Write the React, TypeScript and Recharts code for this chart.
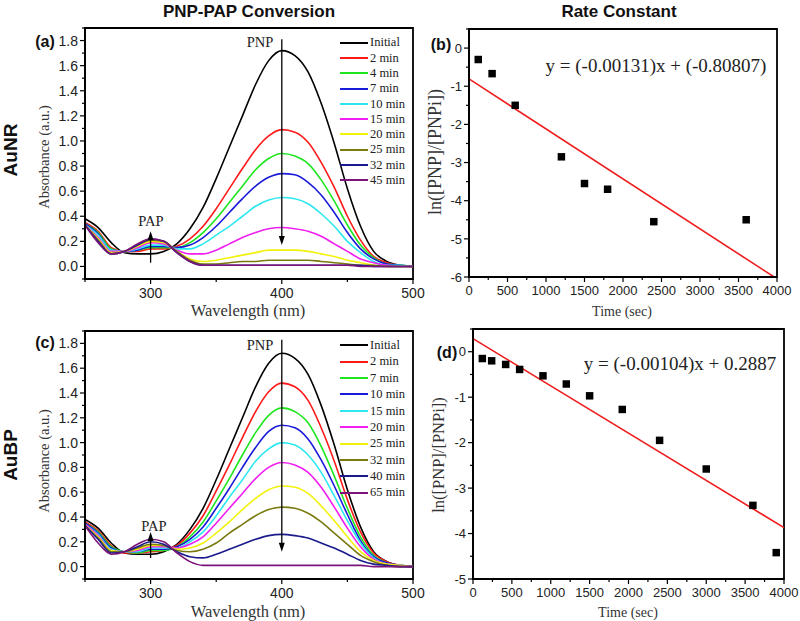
import {
  LineChart, ComposedChart, Line, Scatter, XAxis, YAxis, ZAxis,
  ReferenceArea, ReferenceLine, ReferenceDot, Legend
} from "recharts"

// wavelength grid (nm)
const wl = [250, 260, 270, 280, 290, 300, 310, 320, 330, 340, 350, 360, 370, 380, 390, 400, 410, 420, 430, 440, 450, 460, 470, 480, 490, 500]

// AuNR spectra
const nrLabels = ["Initial", "2 min", "4 min", "7 min", "10 min", "15 min", "20 min", "25 min", "32 min", "45 min"]
const nrInitial = [0.38, 0.31, 0.19, 0.11, 0.10, 0.10, 0.12, 0.18, 0.30, 0.47, 0.70, 0.95, 1.20, 1.45, 1.64, 1.72, 1.68, 1.55, 1.30, 0.98, 0.62, 0.32, 0.12, 0.04, 0.01, 0]
const nr2 = [0.35, 0.28, 0.15, 0.12, 0.12, 0.14, 0.14, 0.16, 0.22, 0.32, 0.46, 0.62, 0.78, 0.93, 1.04, 1.09, 1.07, 0.99, 0.83, 0.63, 0.40, 0.21, 0.08, 0.03, 0.01, 0]
const nr4 = [0.34, 0.27, 0.14, 0.12, 0.13, 0.15, 0.15, 0.15, 0.19, 0.27, 0.38, 0.51, 0.64, 0.77, 0.86, 0.90, 0.88, 0.82, 0.69, 0.52, 0.33, 0.17, 0.07, 0.02, 0.01, 0]
const nr7 = [0.34, 0.26, 0.13, 0.12, 0.13, 0.16, 0.16, 0.15, 0.17, 0.23, 0.32, 0.43, 0.54, 0.64, 0.71, 0.74, 0.73, 0.67, 0.57, 0.43, 0.27, 0.14, 0.06, 0.02, 0.01, 0]
const nr10 = [0.33, 0.25, 0.13, 0.12, 0.14, 0.17, 0.17, 0.14, 0.14, 0.18, 0.25, 0.32, 0.40, 0.48, 0.53, 0.55, 0.54, 0.50, 0.42, 0.32, 0.20, 0.11, 0.04, 0.01, 0.01, 0]
const nr15 = [0.33, 0.23, 0.12, 0.12, 0.15, 0.19, 0.18, 0.13, 0.10, 0.10, 0.13, 0.18, 0.23, 0.27, 0.30, 0.31, 0.30, 0.28, 0.24, 0.18, 0.12, 0.06, 0.03, 0.01, 0, 0]
const nr20 = [0.33, 0.22, 0.11, 0.12, 0.16, 0.20, 0.19, 0.12, 0.06, 0.04, 0.05, 0.07, 0.09, 0.11, 0.13, 0.13, 0.13, 0.12, 0.10, 0.08, 0.05, 0.03, 0.01, 0, 0, 0]
const nr25 = [0.33, 0.21, 0.10, 0.12, 0.17, 0.21, 0.20, 0.12, 0.05, 0.02, 0.02, 0.03, 0.04, 0.04, 0.05, 0.05, 0.05, 0.05, 0.04, 0.03, 0.02, 0.01, 0.01, 0, 0, 0]
const nr32 = [0.33, 0.20, 0.10, 0.12, 0.17, 0.22, 0.20, 0.11, 0.04, 0.01, 0.01, 0.01, 0.01, 0.01, 0.01, 0.01, 0.01, 0.01, 0.01, 0.01, 0.01, 0.01, 0, 0, 0, 0]
const nr45 = [0.33, 0.19, 0.10, 0.12, 0.18, 0.22, 0.20, 0.11, 0.04, 0.01, 0.01, 0.01, 0.01, 0.01, 0.01, 0.01, 0.01, 0.01, 0.01, 0.01, 0.01, 0, 0, 0, 0, 0]

// AuBP spectra
const bpLabels = ["Initial", "2 min", "7 min", "10 min", "15 min", "20 min", "25 min", "32 min", "40 min", "65 min"]
const bpInitial = [0.38, 0.31, 0.19, 0.11, 0.10, 0.10, 0.12, 0.18, 0.30, 0.47, 0.70, 0.95, 1.20, 1.45, 1.64, 1.72, 1.68, 1.55, 1.30, 0.98, 0.62, 0.32, 0.12, 0.04, 0.01, 0]
const bp2 = [0.36, 0.29, 0.17, 0.11, 0.11, 0.12, 0.13, 0.17, 0.27, 0.41, 0.61, 0.82, 1.04, 1.25, 1.41, 1.48, 1.45, 1.34, 1.12, 0.85, 0.54, 0.28, 0.11, 0.04, 0.01, 0]
const bp7 = [0.35, 0.28, 0.16, 0.12, 0.11, 0.13, 0.13, 0.16, 0.24, 0.36, 0.53, 0.71, 0.90, 1.08, 1.22, 1.28, 1.25, 1.16, 0.97, 0.73, 0.47, 0.24, 0.09, 0.03, 0.01, 0]
const bp10 = [0.35, 0.27, 0.15, 0.12, 0.12, 0.14, 0.14, 0.16, 0.22, 0.32, 0.47, 0.63, 0.80, 0.96, 1.09, 1.14, 1.12, 1.03, 0.86, 0.65, 0.42, 0.21, 0.08, 0.03, 0.01, 0]
const bp15 = [0.34, 0.26, 0.14, 0.12, 0.12, 0.15, 0.15, 0.15, 0.20, 0.28, 0.41, 0.56, 0.70, 0.85, 0.95, 1.00, 0.98, 0.90, 0.76, 0.57, 0.37, 0.19, 0.07, 0.02, 0.01, 0]
const bp20 = [0.34, 0.25, 0.13, 0.12, 0.13, 0.16, 0.16, 0.15, 0.18, 0.24, 0.35, 0.47, 0.59, 0.71, 0.80, 0.84, 0.82, 0.76, 0.64, 0.48, 0.31, 0.16, 0.06, 0.02, 0.01, 0]
const bp25 = [0.33, 0.24, 0.13, 0.12, 0.14, 0.17, 0.17, 0.14, 0.15, 0.19, 0.27, 0.36, 0.46, 0.55, 0.62, 0.65, 0.64, 0.59, 0.49, 0.37, 0.24, 0.12, 0.05, 0.02, 0.01, 0]
const bp32 = [0.33, 0.23, 0.12, 0.12, 0.15, 0.18, 0.17, 0.13, 0.12, 0.14, 0.19, 0.27, 0.34, 0.41, 0.46, 0.48, 0.47, 0.43, 0.36, 0.27, 0.18, 0.09, 0.04, 0.01, 0, 0]
const bp40 = [0.33, 0.22, 0.11, 0.12, 0.16, 0.20, 0.18, 0.12, 0.08, 0.07, 0.10, 0.14, 0.18, 0.22, 0.25, 0.26, 0.25, 0.23, 0.19, 0.15, 0.10, 0.05, 0.02, 0.01, 0, 0]
const bp65 = [0.33, 0.19, 0.10, 0.12, 0.18, 0.22, 0.20, 0.11, 0.04, 0.01, 0.01, 0.01, 0.01, 0.01, 0.01, 0.01, 0.01, 0.01, 0.01, 0.01, 0.01, 0.01, 0, 0, 0, 0]

const curveColors = ["#000000", "#ff1a1a", "#1ee61e", "#1a1ad9", "#2ee8f0", "#f01ef0", "#f2f20d", "#7a7a10", "#1a1a8c", "#7a147a"]

// kinetics (time in sec, ln([PNP]/[PNPi]))
const nrTime = [120, 300, 600, 1200, 1500, 1800, 2400, 3600]
const nrLn = [-0.30, -0.67, -1.50, -2.85, -3.55, -3.70, -4.55, -4.50]
const nrFitTime = [0, 3963]
const nrFitLn = [-0.808, -6.0]

const bpTime = [120, 240, 420, 600, 900, 1200, 1500, 1920, 2400, 3000, 3600, 3900]
const bpLn = [-0.15, -0.20, -0.28, -0.39, -0.53, -0.71, -0.97, -1.27, -1.95, -2.58, -3.38, -4.42]
const bpFitTime = [0, 4000]
const bpFitLn = [0.289, -3.871]

// ticks
const wlTicks = [250, 300, 350, 400, 450, 500]
const wlLabels = [300, 400, 500]
const absTicks = [-0.1, 0, 0.1, 0.2, 0.3, 0.4, 0.5, 0.6, 0.7, 0.8, 0.9, 1.0, 1.1, 1.2, 1.3, 1.4, 1.5, 1.6, 1.7, 1.8, 1.9]
const absLabels = [0, 0.2, 0.4, 0.6, 0.8, 1.0, 1.2, 1.4, 1.6, 1.8]
const timeTicks = [0, 250, 500, 750, 1000, 1250, 1500, 1750, 2000, 2250, 2500, 2750, 3000, 3250, 3500, 3750, 4000]
const timeLabels = [0, 500, 1000, 1500, 2000, 2500, 3000, 3500, 4000]
const nrLnTicks = [-6, -5.5, -5, -4.5, -4, -3.5, -3, -2.5, -2, -1.5, -1, -0.5, 0, 0.5]
const bpLnTicks = [-5, -4.5, -4, -3.5, -3, -2.5, -2, -1.5, -1, -0.5, 0, 0.5]
const lnLabels = [-6, -5, -4, -3, -2, -1, 0]

const sans = "Arial, 'Liberation Sans', sans-serif"
const serif = "'Times New Roman', 'Liberation Serif', serif"
const axisLine = { stroke: "#000", strokeWidth: 1.8 }

function toRows(curves: number[][]) {
  return wl.map((w, i) => {
    const row: Record<string, number> = { wl: w }
    curves.forEach((c, k) => { row["s" + k] = c[i] })
    return row
  })
}
const toPoints = (t: number[], v: number[]) => t.map((x, i) => ({ t: x, v: v[i] }))

const nrRows = toRows([nrInitial, nr2, nr4, nr7, nr10, nr15, nr20, nr25, nr32, nr45])
const bpRows = toRows([bpInitial, bp2, bp7, bp10, bp15, bp20, bp25, bp32, bp40, bp65])

const has = (list: number[], v: number) => list.some((m) => Math.abs(m - v) < 1e-6)

function LeftTick(props: any) {
  const { x, y, payload, labels, fmt, size } = props
  const ax = x + 6
  const major = has(labels, payload.value)
  return (
    <g>
      <line x1={ax - (major ? 5 : 3)} x2={ax} y1={y} y2={y} stroke="#000" strokeWidth={1.2} />
      {major && (
        <text x={ax - 7} y={y} dy="0.36em" textAnchor="end" fontSize={size} fontFamily={sans} fill="#222">
          {fmt(payload.value)}
        </text>
      )}
    </g>
  )
}

function BottomTick(props: any) {
  const { x, y, payload, labels, size } = props
  const ay = y - 6
  const major = has(labels, payload.value)
  return (
    <g>
      <line x1={x} x2={x} y1={ay} y2={ay + (major ? 5 : 3)} stroke="#000" strokeWidth={1.2} />
      {major && (
        <text x={x} y={ay + 9} dy="0.71em" textAnchor="middle" fontSize={size} fontFamily={sans} fill="#222">
          {payload.value}
        </text>
      )}
    </g>
  )
}

function SpecLegend({ payload, names, rowH }: any) {
  const items = [...(payload ?? [])].sort((a: any, b: any) => names.indexOf(a.value) - names.indexOf(b.value))
  return (
    <div>
      {items.map((e: any) => (
        <div key={e.value} style={{ height: rowH, display: "flex", alignItems: "center" }}>
          <span style={{ width: 28, borderTop: `2px solid ${e.color}`, marginRight: 2 }} />
          <span style={{ fontFamily: serif, fontSize: 12.5, color: "#222", lineHeight: 1 }}>{e.value}</span>
        </div>
      ))}
    </div>
  )
}

const downHead = (p: any) => <polygon points={`${p.cx - 3},${p.cy - 9} ${p.cx + 3},${p.cy - 9} ${p.cx},${p.cy}`} fill="#000" />
const upHead = (p: any) => <polygon points={`${p.cx - 3},${p.cy + 9} ${p.cx + 3},${p.cy + 9} ${p.cx},${p.cy}`} fill="#000" />

function Spectra({ rows, names, top, pnpTop, pnpTip, papBottom, papTip, legendTop, rowH }: any) {
  return (
    <LineChart width={430} height={top === 28 ? 320 : 321} data={rows} margin={{ top, right: 17, bottom: 0, left: 0 }}>
      <XAxis type="number" dataKey="wl" domain={[250, 500]} ticks={wlTicks} interval={0} allowDataOverflow
        height={top === 28 ? 41 : 42} tickSize={5} tickMargin={1} tickLine={false} axisLine={axisLine}
        tick={(p: any) => <BottomTick {...p} labels={wlLabels} size={14} />} />
      <YAxis type="number" domain={[-0.1, 1.9]} ticks={absTicks} interval={0} allowDataOverflow
        width={85} tickSize={5} tickMargin={1} tickLine={false} axisLine={axisLine}
        tick={(p: any) => <LeftTick {...p} labels={absLabels} size={14} fmt={(v: number) => v.toFixed(1)} />} />
      <ReferenceArea x1={250} x2={500} y1={-0.1} y2={1.9} fill="none" stroke="#000" strokeWidth={1.8} />
      {names.map((n: string, k: number) => (
        <Line key={n} type="monotone" dataKey={"s" + k} name={n} stroke={curveColors[k]} strokeWidth={1.6}
          dot={false} isAnimationActive={false} />
      ))}
      <ReferenceLine segment={[{ x: 400, y: pnpTop }, { x: 400, y: pnpTip + 0.06 }]} stroke="#000" strokeWidth={1.3} />
      <ReferenceDot x={400} y={pnpTip} shape={downHead} />
      <ReferenceLine segment={[{ x: 300, y: papBottom }, { x: 300, y: papTip - 0.06 }]} stroke="#000" strokeWidth={1.3} />
      <ReferenceDot x={300} y={papTip} shape={upHead} />
      <Legend layout="vertical" align="center" verticalAlign="middle"
        wrapperStyle={{ left: 340, top: legendTop, width: 90 }}
        content={(p: any) => <SpecLegend {...p} names={names} rowH={rowH} />} />
    </LineChart>
  )
}

function Kinetics({ points, fit, yDomain, yTicks, top, left, right, height, xH }: any) {
  return (
    <ComposedChart width={370} height={height} margin={{ top, right, bottom: 0, left: 0 }}>
      <XAxis type="number" dataKey="t" domain={[0, 4000]} ticks={timeTicks} interval={0} allowDataOverflow
        height={xH} tickSize={5} tickMargin={1} tickLine={false} axisLine={axisLine}
        tick={(p: any) => <BottomTick {...p} labels={timeLabels} size={13} />} />
      <YAxis type="number" dataKey="v" domain={yDomain} ticks={yTicks} interval={0} allowDataOverflow
        width={left} tickSize={5} tickMargin={1} tickLine={false} axisLine={axisLine}
        tick={(p: any) => <LeftTick {...p} labels={lnLabels} size={13} fmt={(v: number) => String(v)} />} />
      <ZAxis range={[56, 56]} />
      <ReferenceArea x1={0} x2={4000} y1={yDomain[0]} y2={yDomain[1]} fill="none" stroke="#000" strokeWidth={1.8} />
      <Line data={fit} dataKey="v" type="linear" stroke="#ee1c1c" strokeWidth={1.6} dot={false} isAnimationActive={false} />
      <Scatter data={points} dataKey="v" fill="#000" shape="square" isAnimationActive={false} />
    </ComposedChart>
  )
}

function Txt({ x, y, size, bold, font, rotate, color, children }: any) {
  return (
    <div style={{
      position: "absolute", left: x, top: y, whiteSpace: "nowrap", lineHeight: 1,
      transform: `translate(-50%, -50%)${rotate ? " rotate(-90deg)" : ""}`,
      fontSize: size, fontWeight: bold ? 700 : 400, fontFamily: font ?? sans, color: color ?? "#111",
    }}>{children}</div>
  )
}

export default function App() {
  return (
    <div style={{ position: "absolute", left: 0, top: 0, width: 800, height: 621, background: "#fff", overflow: "hidden" }}>
      <div style={{ position: "absolute", left: 0, top: 0 }}>
        <Spectra rows={nrRows} names={nrLabels} top={28} pnpTop={1.81} pnpTip={0.17} papBottom={0.03} papTip={0.28}
          legendTop={35} rowH={15.3} />
      </div>
      <div style={{ position: "absolute", left: 0, top: 300 }}>
        <Spectra rows={bpRows} names={bpLabels} top={31} pnpTop={1.83} pnpTip={0.12} papBottom={0.07} papTip={0.28}
          legendTop={37} rowH={16.4} />
      </div>
      <div style={{ position: "absolute", left: 430, top: 0 }}>
        <Kinetics points={toPoints(nrTime, nrLn)} fit={toPoints(nrFitTime, nrFitLn)} yDomain={[-6, 0.5]} yTicks={nrLnTicks}
          top={29} left={39} right={23} height={320} xH={43} />
      </div>
      <div style={{ position: "absolute", left: 430, top: 300 }}>
        <Kinetics points={toPoints(bpTime, bpLn)} fit={toPoints(bpFitTime, bpFitLn)} yDomain={[-5, 0.5]} yTicks={bpLnTicks}
          top={29} left={43} right={16} height={321} xH={42} />
      </div>

      <Txt x={249} y={11} size={17} bold>PNP-PAP Conversion</Txt>
      <Txt x={619} y={11} size={17} bold>Rate Constant</Txt>
      <Txt x={10} y={150} size={19} bold rotate>AuNR</Txt>
      <Txt x={10} y={455} size={19} bold rotate>AuBP</Txt>

      <Txt x={45} y={42} size={16} bold>(a)</Txt>
      <Txt x={441} y={45} size={16} bold>(b)</Txt>
      <Txt x={45} y={343} size={16} bold>(c)</Txt>
      <Txt x={447} y={353} size={16} bold>(d)</Txt>

      <Txt x={44} y={157} size={14.5} font={serif} color="#333" rotate>Absorbance (a.u.)</Txt>
      <Txt x={44} y={461} size={14.5} font={serif} color="#333" rotate>Absorbance (a.u.)</Txt>
      <Txt x={248} y={311} size={16.5} font={serif} color="#333">Wavelength (nm)</Txt>
      <Txt x={248} y={612} size={16.5} font={serif} color="#333">Wavelength (nm)</Txt>
      <Txt x={435} y={152} size={18} font={serif} color="#333" rotate>ln([PNP]/[PNPi])</Txt>
      <Txt x={439} y={455} size={16.5} font={serif} color="#333" rotate>ln([PNP]/[PNPi])</Txt>
      <Txt x={622} y={312} size={14} font={serif} color="#333">Time (sec)</Txt>
      <Txt x={628} y={613} size={14} font={serif} color="#333">Time (sec)</Txt>

      <Txt x={656} y={65} size={19} font={serif} color="#222">y = (-0.00131)x + (-0.80807)</Txt>
      <Txt x={680} y={363} size={19} font={serif} color="#222">y = (-0.00104)x + 0.2887</Txt>

      <Txt x={260} y={42} size={14.5} font={serif} color="#222">PNP</Txt>
      <Txt x={151} y={221} size={14.5} font={serif} color="#222">PAP</Txt>
      <Txt x={260} y={345} size={14.5} font={serif} color="#222">PNP</Txt>
      <Txt x={154} y={526} size={14.5} font={serif} color="#222">PAP</Txt>
    </div>
  )
}
